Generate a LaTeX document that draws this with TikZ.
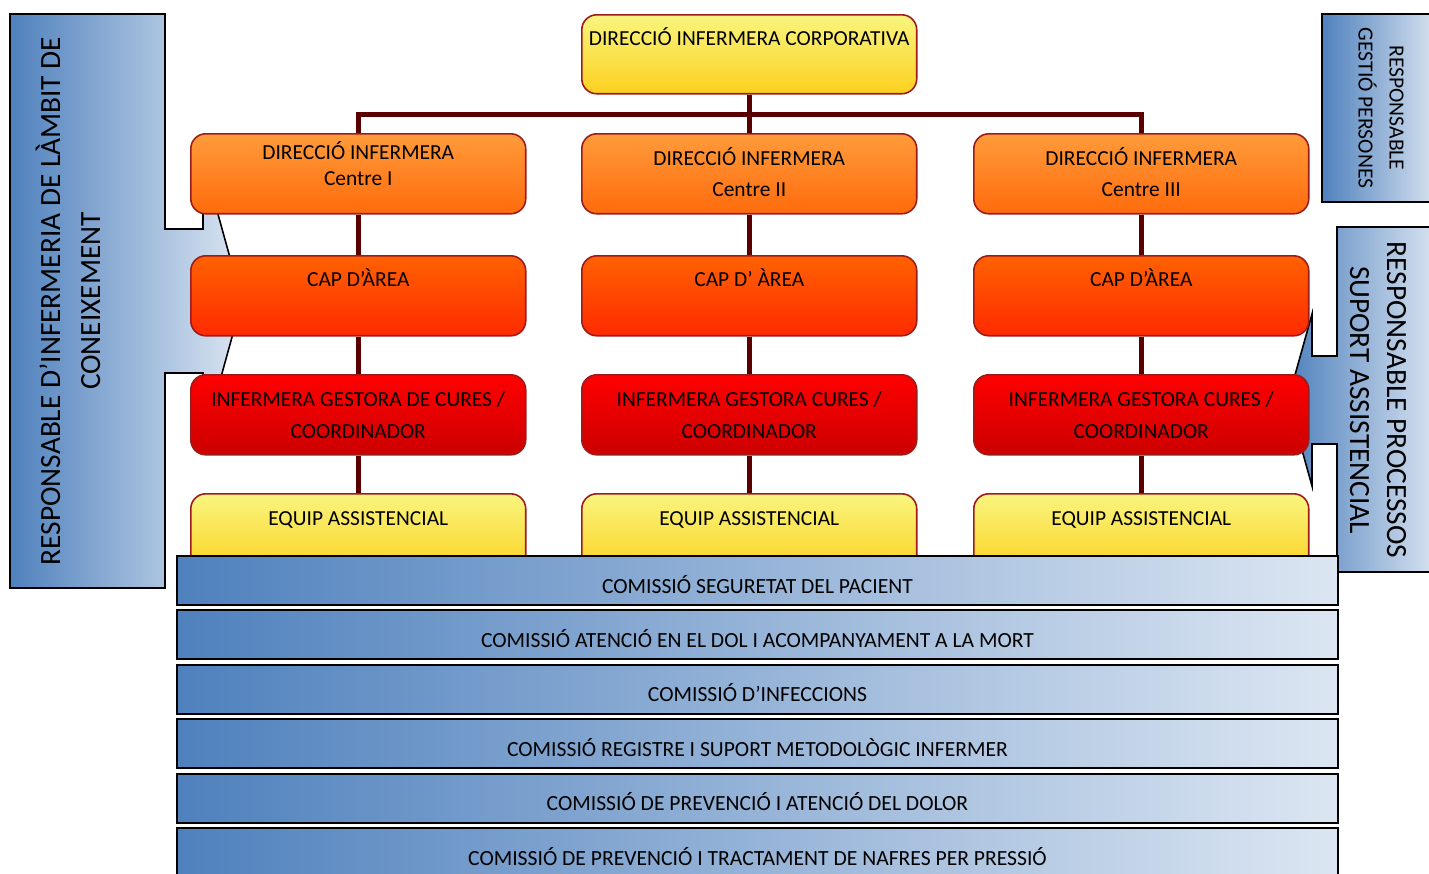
\documentclass[tikz,border=0pt]{standalone}
\usepackage{fontspec}
\setmainfont{Carlito}
\usetikzlibrary{positioning}

\definecolor{connred}{HTML}{5A0000}
\definecolor{edgered}{HTML}{9C1C1C}
\definecolor{ylwtop}{HTML}{F9F57F}
\definecolor{ylwbot}{HTML}{FCD11F}
\definecolor{ortop}{HTML}{FF9B3B}
\definecolor{orbot}{HTML}{FF6B0C}
\definecolor{captop}{HTML}{FF6201}
\definecolor{capbot}{HTML}{FF2A00}
\definecolor{igctop}{HTML}{FF0000}
\definecolor{igcbot}{HTML}{CC0000}
\definecolor{blueL}{HTML}{4F81BD}
\definecolor{blueR}{HTML}{DCE6F2}

\tikzset{
  box/.style={draw=edgered, line width=0.9pt, rounded corners=0.3cm,
    minimum width=6.7cm, minimum height=1.6cm, anchor=north west,
    align=center, inner sep=0pt, text height=0pt, text depth=0.34cm,
    font=\fontsize{12.2}{17.6}\selectfont},
  twolines/.style={text height=0.9cm, text depth=0pt},
  ylwbox/.style={box, top color=ylwtop, bottom color=ylwbot},
  orbox/.style={box, twolines, top color=ortop, bottom color=orbot},
  capbox/.style={box, text depth=0.36cm, top color=captop, bottom color=capbot},
  igcbox/.style={box, twolines, text height=0.96cm, top color=igctop, bottom color=igcbot,
    font=\fontsize{12.2}{18.2}\selectfont},
  conn/.style={connred, line width=2.8pt},
  callout/.style={draw=black, line width=0.9pt, left color=blueL, right color=blueR},
  calltext/.style={align=center, inner sep=0pt},
  combar/.style={draw=black, line width=1.1pt, left color=blueL, right color=blueR,
    minimum width=23.22cm, minimum height=0.98cm, inner sep=0pt,
    text height=0.5cm, text depth=0pt, font=\fontsize{12.3}{14}\selectfont}
}

\begin{document}
\begin{tikzpicture}[x=0.02cm, y=-0.02cm]
  \useasboundingbox (0,0) rectangle (1429,873);
  \clip (0,0) rectangle (1429,873);

  % side callouts
  \draw[callout] (10,14) -- (165,14) -- (165,229) -- (203,229) -- (203,160) -- (242,301)
    -- (203,442) -- (203,373) -- (165,373) -- (165,588) -- (10,588) -- cycle;
  \node[calltext, rotate=90, font=\fontsize{16.7}{22.8}\selectfont] (ambit) at (68,301)
    {RESPONSABLE D’INFERMERIA DE LÀMBIT DE\\CONEIXEMENT};
  \draw[callout] (1322,14) rectangle (1440,202);
  \node[calltext, rotate=-90, font=\fontsize{12.3}{17.6}\selectfont] (gestio) at (1381,108)
    {RESPONSABLE\\GESTIÓ PERSONES};
  \draw[callout] (1440,227) -- (1337,227) -- (1337,356) -- (1312,356) -- (1312,314) -- (1288,400)
    -- (1312,486) -- (1312,444) -- (1337,444) -- (1337,572) -- (1440,572) -- cycle;
  \node[calltext, rotate=-90, font=\fontsize{16.7}{21}\selectfont] (suport) at (1378,400)
    {RESPONSABLE PROCESSOS\\SUPORT ASSISTENCIAL};

  % organigrama
  \node[ylwbox, minimum height=1.58cm] (dic) at (581,14) {DIRECCIÓ INFERMERA CORPORATIVA};
  \node[orbox, font=\fontsize{12.2}{14.8}\selectfont, text height=0.46cm] (dir1) at (190,133) {DIRECCIÓ INFERMERA\\Centre I};
  \node[orbox] (dir2) at (581,133) {DIRECCIÓ INFERMERA\\Centre II};
  \node[orbox] (dir3) at (973,133) {DIRECCIÓ INFERMERA\\Centre III};
  \node[capbox] (cap1) at (190,255) {CAP D’ÀREA};
  \node[capbox] (cap2) at (581,255) {CAP D’ ÀREA};
  \node[capbox] (cap3) at (973,255) {CAP D’ÀREA};
  \node[igcbox] (igc1) at (190,374) {INFERMERA GESTORA DE CURES /\\COORDINADOR};
  \node[igcbox] (igc2) at (581,374) {INFERMERA GESTORA CURES /\\COORDINADOR};
  \node[igcbox] (igc3) at (973,374) {INFERMERA GESTORA CURES /\\COORDINADOR};
  \node[ylwbox] (eq1) at (190,493) {EQUIP ASSISTENCIAL};
  \node[ylwbox] (eq2) at (581,493) {EQUIP ASSISTENCIAL};
  \node[ylwbox] (eq3) at (973,493) {EQUIP ASSISTENCIAL};

  \draw[conn] (dic.south) -- ++(0,20) -| (dir1.north);
  \draw[conn] (dic.south) -- ++(0,20) -| (dir3.north);
  \draw[conn] (dic.south) -- (dir2.north);
  \foreach \c in {1,2,3} {
    \draw[conn] (dir\c.south) -- (cap\c.north);
    \draw[conn] (cap\c.south) -- (igc\c.north);
    \draw[conn] (igc\c.south) -- (eq\c.north);
  }

  % comissions
  \foreach \t [count=\i] in {COMISSIÓ SEGURETAT DEL PACIENT,
      COMISSIÓ ATENCIÓ EN EL DOL I ACOMPANYAMENT A LA MORT,
      COMISSIÓ D’INFECCIONS,
      COMISSIÓ REGISTRE I SUPORT METODOLÒGIC INFERMER,
      COMISSIÓ DE PREVENCIÓ I ATENCIÓ DEL DOLOR,
      COMISSIÓ DE PREVENCIÓ I TRACTAMENT DE NAFRES PER PRESSIÓ}
    \node[combar] (com\i) at (757.5,{580.5+54.4*(\i-1)}) {\t};
\end{tikzpicture}
\end{document}
